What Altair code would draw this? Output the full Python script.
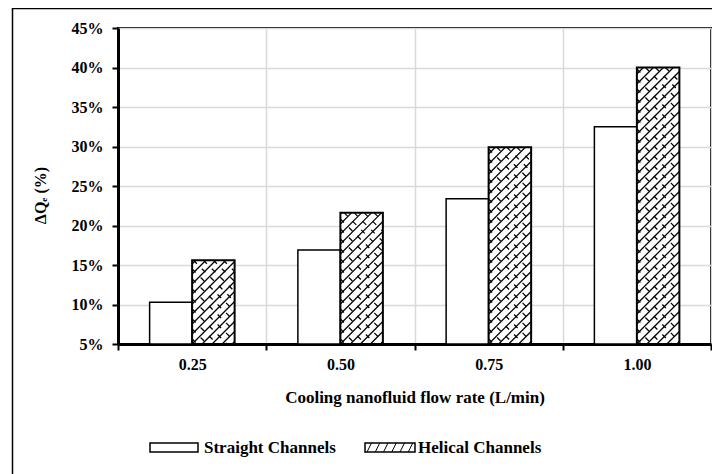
import json
import altair as alt
import pandas as pd

# ---- data ----
categories = ["0.25", "0.50", "0.75", "1.00"]
series_names = ["Straight Channels", "Helical Channels"]
straight = [10.3, 16.9, 23.4, 32.5]
helical = [15.6, 21.6, 29.9, 40.0]
y_ticks = [5, 10, 15, 20, 25, 30, 35, 40, 45]

rows = []
for i, c in enumerate(categories):
    rows.append({"cat": c, "idx": i, "series": series_names[0], "sidx": 0, "value": straight[i]})
    rows.append({"cat": c, "idx": i, "series": series_names[1], "sidx": 1, "value": helical[i]})
df = pd.DataFrame(rows)
leg_df = pd.DataFrame({"series": series_names, "sidx": [0, 1]})

# ---- layout / style ----
W, H = 593, 316
Y0, Y1 = y_ticks[0], y_ticks[-1]
PXU = W / len(categories)        # px per category unit
PYU = H / (Y1 - Y0)              # px per percent
BW = 42.5 / PXU                  # bar width in category units
S = 10                           # hatch spacing (px, horizontal)
FONT = "Liberation Serif"
FS = 16
FS_BIG = 17

xscale = alt.Scale(domain=[0, len(categories)], nice=False, zero=False)
yscale = alt.Scale(domain=[Y0, Y1], nice=False, zero=False)

label_expr = f"{json.dumps(categories)}[datum.value] || ''"

x_axis = alt.Axis(
    values=list(range(len(categories) + 1)), labelExpr=label_expr,
    labelOffset=PXU / 2, labelFlush=False, labelOverlap=False, labelBound=False,
    grid=True, gridColor="#d9d9d9", gridWidth=1.5,
    domainColor="black", domainWidth=3, tickColor="black", tickWidth=2, tickSize=6,
    labelPadding=6, labelFont=FONT, labelFontSize=FS, labelFontWeight="bold", labelColor="black",
    title="Cooling nanofluid flow rate (L/min)", titleFont=FONT, titleFontSize=FS_BIG,
    titleFontWeight="bold", titleColor="black", titleY=53, titleBaseline="middle",
)
y_axis = alt.Axis(
    values=y_ticks, labelExpr="datum.value + '%'",
    grid=True, gridColor="#d9d9d9", gridWidth=1.5,
    domainColor="black", domainWidth=3, tickColor="black", tickWidth=2, tickSize=6,
    labelPadding=9, labelFont=FONT, labelFontSize=FS, labelFontWeight="bold", labelColor="black",
    title="ΔQₑ (%)", titleFont=FONT, titleFontSize=FS, titleFontWeight="bold", titleColor="black",
    titleAngle=270, titleX=-78, titleY=167, titleAlign="center", titleBaseline="middle",
)

bars = alt.Chart(df).transform_calculate(
    x0=f"datum.idx + 0.5 - {BW} + datum.sidx * {BW}"
).transform_calculate(
    x1=f"datum.x0 + {BW}"
).mark_rect(fill="white", stroke="black").encode(
    x=alt.X("x0:Q", scale=xscale, axis=x_axis),
    x2="x1:Q",
    y=alt.Y("value:Q", scale=yscale, axis=y_axis),
    y2=alt.datum(Y0),
    strokeWidth=alt.condition("datum.sidx == 1", alt.value(2), alt.value(1.5)),
)

def hatch_base():
    return alt.Chart(df).transform_filter("datum.sidx == 1").transform_calculate(
        bx=f"datum.idx + 0.5"
    ).transform_calculate(
        hpx=f"(datum.value - {Y0}) * {PYU}"
    ).transform_calculate(
        wpx=f"{BW * PXU}"
    )

# "/" lines: t = u - c
hatch_a = hatch_base().transform_calculate(
    ks=f"sequence(floor(-datum.hpx / {S}) + 1, ceil(datum.wpx / {S}))"
).transform_flatten(["ks"], as_=["k"]).transform_calculate(
    c=f"datum.k * {S}"
).transform_calculate(
    u1="max(0, datum.c)"
).transform_calculate(
    u2="min(datum.wpx, datum.hpx + datum.c)"
).transform_filter("datum.u2 > datum.u1").transform_calculate(
    hx1=f"datum.bx + datum.u1 / {PXU}"
).transform_calculate(
    hx2=f"datum.bx + datum.u2 / {PXU}"
).transform_calculate(
    hy1=f"{Y0} + (datum.u1 - datum.c) / {PYU}"
).transform_calculate(
    hy2=f"{Y0} + (datum.u2 - datum.c) / {PYU}"
).mark_rule(color="black", strokeWidth=1.2).encode(
    x=alt.X("hx1:Q", scale=xscale, axis=x_axis), x2="hx2:Q",
    y=alt.Y("hy1:Q", scale=yscale, axis=y_axis), y2="hy2:Q",
)

# "\" short connectors: t = d - u (dashed)
hatch_b = hatch_base().transform_calculate(
    ks=f"sequence(1, ceil((datum.wpx + datum.hpx) / {S}))"
).transform_flatten(["ks"], as_=["k"]).transform_calculate(
    d=f"datum.k * {S} - {S / 2}"
).transform_calculate(
    u1="max(0, datum.d - datum.hpx)"
).transform_calculate(
    u2="min(datum.wpx, datum.d)"
).transform_filter("datum.u2 > datum.u1").transform_calculate(
    hx1=f"datum.bx + datum.u1 / {PXU}"
).transform_calculate(
    hx2=f"datum.bx + datum.u2 / {PXU}"
).transform_calculate(
    hy1=f"{Y0} + (datum.d - datum.u1) / {PYU}"
).transform_calculate(
    hy2=f"{Y0} + (datum.d - datum.u2) / {PYU}"
).mark_rule(color="black", strokeWidth=1.2, strokeDash=[5, 7]).encode(
    x=alt.X("hx1:Q", scale=xscale, axis=x_axis), x2="hx2:Q",
    y=alt.Y("hy1:Q", scale=yscale, axis=y_axis), y2="hy2:Q",
)

# outer figure frame
frame = alt.Chart(leg_df).transform_filter("datum.sidx == 0").mark_rect(
    fillOpacity=0, stroke="black", strokeWidth=1.5
).encode(
    x=alt.value(-105.5), x2=alt.value(700), y=alt.value(-19.5), y2=alt.value(460)
)

# custom legend
leg_rect1 = alt.Chart(leg_df).transform_filter("datum.sidx == 0").mark_rect(
    fill="white", stroke="black", strokeWidth=1.5
).encode(x=alt.value(32), x2=alt.value(80), y=alt.value(415), y2=alt.value(424))
leg_rect2 = alt.Chart(leg_df).transform_filter("datum.sidx == 1").mark_rect(
    fill="white", stroke="black", strokeWidth=1.5
).encode(x=alt.value(247), x2=alt.value(297), y=alt.value(415), y2=alt.value(424))

slash_path = " ".join(
    f"M{-0.92 + i * 0.33:.2f},0.18L{-0.74 + i * 0.33:.2f},-0.18" for i in range(6)
)
leg_hatch = alt.Chart(leg_df).transform_filter("datum.sidx == 1").mark_point(
    shape=slash_path, filled=False, stroke="black", strokeWidth=1, size=2500, opacity=1
).encode(x=alt.value(272), y=alt.value(419.5))

leg_text1 = alt.Chart(leg_df).transform_filter("datum.sidx == 0").mark_text(
    align="left", baseline="middle", font=FONT, fontSize=FS_BIG, fontWeight="bold", color="black"
).encode(x=alt.value(86), y=alt.value(420), text="series:N")
leg_text2 = alt.Chart(leg_df).transform_filter("datum.sidx == 1").mark_text(
    align="left", baseline="middle", font=FONT, fontSize=FS_BIG, fontWeight="bold", color="black"
).encode(x=alt.value(300), y=alt.value(420), text="series:N")

chart = alt.layer(
    bars, hatch_a, hatch_b, frame, leg_rect1, leg_rect2, leg_hatch, leg_text1, leg_text2
).properties(
    width=W, height=H,
    autosize=alt.AutoSizeParams(type="none"),
    padding={"left": 110, "top": 20, "right": 1, "bottom": 130},
).configure_view(
    stroke="black", strokeWidth=2
)

chart.save("out.html", embed_options={"renderer": "svg", "actions": False})
